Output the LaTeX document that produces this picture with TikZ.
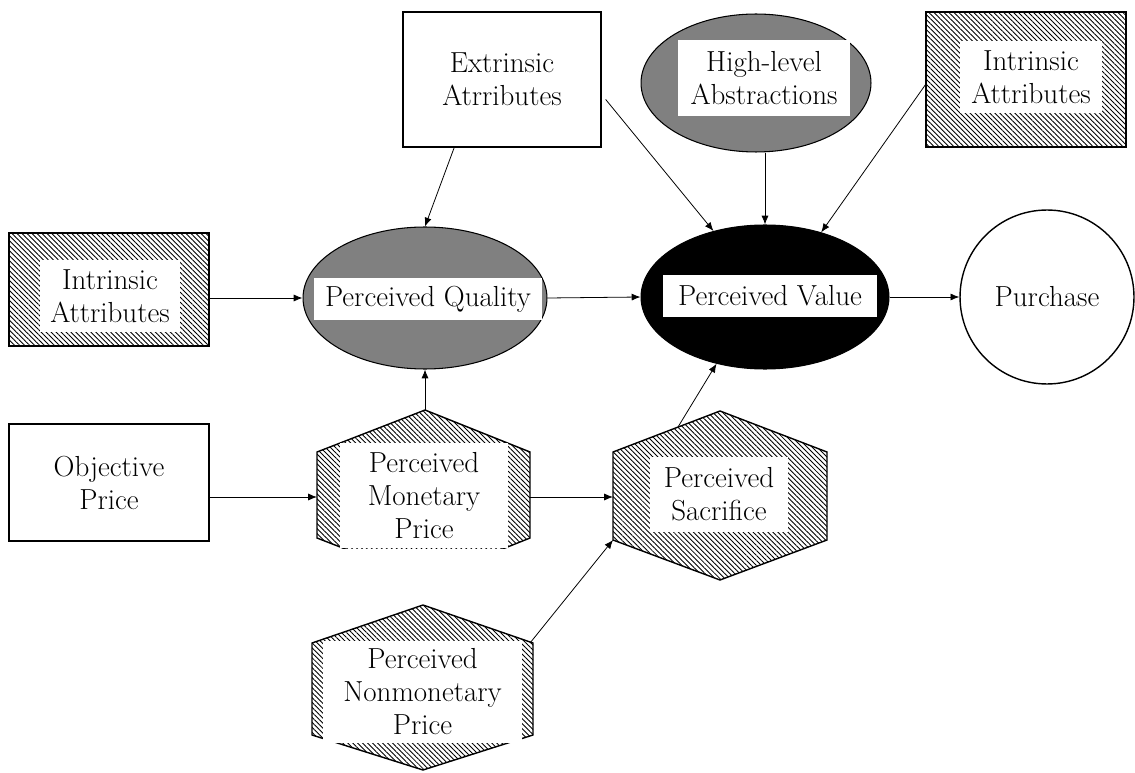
\documentclass[tikz,border=0pt]{standalone}
\usetikzlibrary{shapes.geometric,patterns.meta,arrows.meta,calc}
\begin{document}
\begin{tikzpicture}[x=0.02cm,y=-0.02cm,
 txt/.style={font=\fontsize{16.5}{18.8}\selectfont, align=center, inner sep=0pt},
 wbox/.style={txt, fill=white},
 hatch/.style={pattern={Lines[angle=-45,distance=2pt,line width=0.5pt]}},
 outl/.style={draw=black, line width=0.8pt},
 conn/.style={line width=0.45pt,-{Latex[length=5pt,width=4pt]}},
]
\useasboundingbox (0,0) rectangle (1135,773);

% Extrinsic attributes
\node[outl, fill=white, minimum width=3.96cm, minimum height=2.7cm] (ext) at (502,79.5) {};
\node[txt] (ext-t) at (502,79) {Extrinsic\\Atrributes};

% High-level abstractions
\node[ellipse, outl, line width=0.6pt, fill=black!50, minimum width=4.6cm, minimum height=2.76cm, inner sep=0pt] (hla) at (756,83) {};
\node[wbox, minimum width=3.44cm, minimum height=1.54cm] (hla-t) at (764,78) {High-level\\Abstractions};

% Intrinsic attributes (top right)
\node[outl, hatch, minimum width=4cm, minimum height=2.7cm] (intr) at (1026,79.5) {};
\node[wbox, minimum width=2.84cm, minimum height=1.46cm] (intr-t) at (1031,77) {Intrinsic\\Attributes};

% Intrinsic attributes (left)
\node[outl, hatch, minimum width=4cm, minimum height=2.26cm] (intl) at (109,289.5) {};
\node[wbox, minimum width=2.8cm, minimum height=1.44cm] (intl-t) at (110,296) {Intrinsic\\Attributes};

% Perceived quality
\node[ellipse, outl, line width=0.6pt, fill=black!50, minimum width=4.88cm, minimum height=2.84cm, inner sep=0pt] (pq) at (425,298) {};
\node[wbox, minimum width=4.58cm, minimum height=0.84cm] (pq-t) at (428,299) {Perceived Quality};

% Perceived value
\node[ellipse, outl, line width=0.6pt, fill=black, minimum width=4.96cm, minimum height=2.88cm, inner sep=0pt] (pv) at (765,297) {};
\node[wbox, minimum width=4.28cm, minimum height=0.84cm] (pv-t) at (770,296) {Perceived Value};

% Purchase
\node[circle, outl, minimum size=3.48cm, inner sep=0pt] (pur) at (1047,297) {};
\node[txt] (pur-t) at (1047,297) {Purchase};

% Objective price
\node[outl, fill=white, minimum width=4cm, minimum height=2.34cm] (obj) at (109,482.5) {};
\node[txt] (obj-t) at (109,483) {Objective\\Price};

% Perceived monetary price (hexagon, cut at bottom)
\coordinate (mp-top) at (425,410);
\coordinate (mp-left) at (317,497);
\coordinate (mp-right) at (530,497);
\begin{scope}
\clip (0,0) rectangle (1135,548);
\draw[outl, hatch] (425,410) -- (530,452) -- (530,538) -- (425,580) -- (317,538) -- (317,452) -- cycle;
\end{scope}
\node[wbox, minimum width=3.36cm, minimum height=2.1cm] (mp-t) at (424,495.5) {Perceived\\Monetary\\Price};

% Perceived sacrifice (hexagon)
\coordinate (ps-left) at (613,497);
\coordinate (ps-ll) at (613,540);
\coordinate (ps-tl) at (678,427);
\draw[outl, hatch] (720,411) -- (827,452) -- (827,540) -- (720,580) -- (613,540) -- (613,452) -- cycle;
\node[wbox, minimum width=2.76cm, minimum height=1.5cm] (ps-t) at (719,494.5) {Perceived\\Sacrifice};

% Perceived nonmonetary price (hexagon)
\coordinate (nm-ur) at (530,643);
\draw[outl, hatch] (423,605) -- (533,643) -- (533,735) -- (423,770) -- (312,735) -- (312,643) -- cycle;
\node[wbox, minimum width=3.98cm, minimum height=2.04cm] (nm-t) at (422.5,692) {Perceived\\Nonmonetary\\Price};

% Connectors
\draw[conn] (pq.west -| intl.east) -- (pq.west);
\draw[conn] ($(ext.south west)!0.26!(ext.south east)$) -- (pq.north);
\draw[conn] ($(ext.east)+(4,20)$) -- (pv.128);
\draw[conn] (pv.north |- hla.south) -- (pv.north);
\draw[conn] ($(intr.west)+(0,5)$) -- (pv.49);
\draw[conn] (pq.east) -- (pv.west);
\draw[conn] (pv.east) -- (pur.west);
\draw[conn] (mp-top) -- (pq.south);
\draw[conn] (obj.east |- mp-left) -- (mp-left);
\draw[conn] (mp-right) -- (ps-left);
\draw[conn] (nm-ur) -- (ps-ll);
\draw[conn] (ps-tl) -- (pv.234);
\end{tikzpicture}
\end{document}
